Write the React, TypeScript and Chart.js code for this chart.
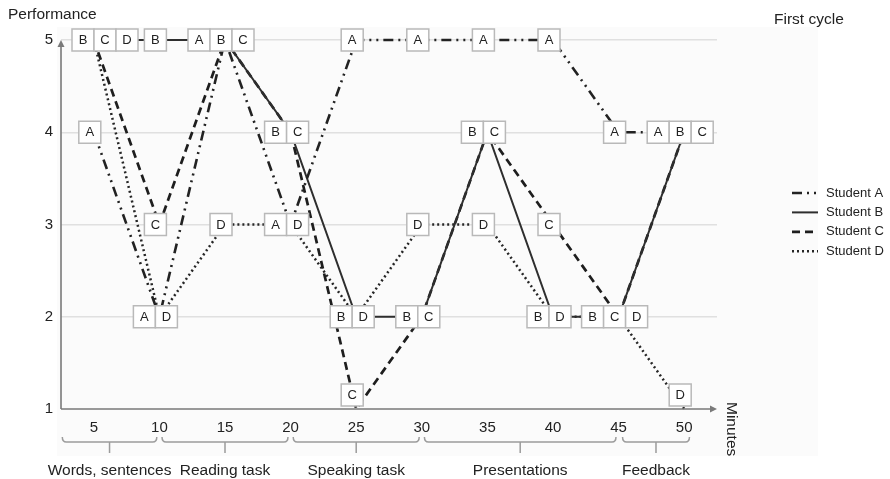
import React, { useEffect, useRef } from "react";
import { Chart, registerables } from "chart.js";

Chart.register(...registerables);

const minutes = [5, 10, 15, 20, 25, 30, 35, 40, 45, 50];
const studentA = [4, 2, 5, 3, 5, 5, 5, 5, 4, 4];
const studentB = [5, 5, 5, 4, 2, 2, 4, 2, 2, 4];
const studentC = [5, 3, 5, 4, 1, 2, 4, 3, 2, 4];
const studentD = [5, 2, 3, 3, 2, 3, 3, 2, 2, 1];
const studentNames = ["Student A", "Student B", "Student C", "Student D"];
const studentLetters = ["A", "B", "C", "D"];
const xTicks = [5, 10, 15, 20, 25, 30, 35, 40, 45, 50];
const yTicks = [1, 2, 3, 4, 5];
const phaseLabels = ["Words, sentences", "Reading task", "Speaking task", "Presentations", "Feedback"];
const phaseStarts = [2.6, 10.2, 20.2, 30.2, 45.3];
const phaseEnds = [9.8, 19.8, 29.8, 44.8, 50.4];
const yTitle = "Performance";
const xTitle = "Minutes";
const cornerTitle = "First cycle";

const FONT = '"Liberation Sans", Arial, Helvetica, sans-serif';
const TEXT = "#222222";

const decorPlugin = {
  id: "decor",
  beforeDraw(chart: any) {
    const { ctx, chartArea } = chart;
    ctx.save();
    ctx.fillStyle = "#fbfbfb";
    ctx.fillRect(chartArea.left - 4, chartArea.top - 13, chartArea.right - chartArea.left + 105, chartArea.bottom - chartArea.top + 60);
    ctx.restore();
  },
  afterDatasetsDraw(chart: any) {
    const { ctx, chartArea } = chart;
    const { left, right, top, bottom } = chartArea;
    const xs = chart.scales.x;
    const ys = chart.scales.y;
    ctx.save();

    // axes with arrows
    ctx.strokeStyle = "#7a7a7a";
    ctx.fillStyle = "#7a7a7a";
    ctx.lineWidth = 1.6;
    ctx.setLineDash([]);
    ctx.beginPath();
    ctx.moveTo(left, bottom);
    ctx.lineTo(left, top + 4);
    ctx.moveTo(left, bottom);
    ctx.lineTo(right - 4, bottom);
    ctx.stroke();
    ctx.beginPath();
    ctx.moveTo(left, top);
    ctx.lineTo(left - 3.5, top + 7);
    ctx.lineTo(left + 3.5, top + 7);
    ctx.closePath();
    ctx.fill();
    ctx.beginPath();
    ctx.moveTo(right, bottom);
    ctx.lineTo(right - 7, bottom - 3.5);
    ctx.lineTo(right - 7, bottom + 3.5);
    ctx.closePath();
    ctx.fill();

    // letter boxes
    const ds = chart.data.datasets;
    const bw = 22;
    minutes.forEach((m, i) => {
      const groups = new Map<number, number[]>();
      ds.forEach((d: any, s: number) => {
        const v = d.data[i].y;
        if (!groups.has(v)) groups.set(v, []);
        groups.get(v)!.push(s);
      });
      groups.forEach((members, v) => {
        const px = xs.getPixelForValue(m) - 4;
        let py = ys.getPixelForValue(v);
        py = Math.min(py, bottom - 3 - bw / 2);
        const n = members.length;
        let x0 = px - (n * bw) / 2;
        x0 = Math.max(x0, left + 11);
        members.forEach((s, k) => {
          const bx = x0 + k * bw;
          const by = py - bw / 2;
          ctx.fillStyle = "#ffffff";
          ctx.fillRect(bx, by, bw, bw);
          ctx.strokeStyle = "#b9b9b9";
          ctx.lineWidth = 1.5;
          ctx.strokeRect(bx, by, bw, bw);
          ctx.fillStyle = TEXT;
          ctx.font = `13px ${FONT}`;
          ctx.textAlign = "center";
          ctx.textBaseline = "middle";
          ctx.fillText(studentLetters[s], bx + bw / 2, py + 0.5);
        });
      });
    });

    // phase brackets
    const by = bottom + 33;
    ctx.strokeStyle = "#9c9c9c";
    ctx.lineWidth = 1.5;
    phaseLabels.forEach((label, i) => {
      const x1 = xs.getPixelForValue(phaseStarts[i]);
      const x2 = xs.getPixelForValue(phaseEnds[i]);
      const xm = (x1 + x2) / 2;
      ctx.beginPath();
      ctx.moveTo(x1, by - 5);
      ctx.quadraticCurveTo(x1, by, x1 + 4, by);
      ctx.lineTo(x2 - 4, by);
      ctx.quadraticCurveTo(x2, by, x2, by - 5);
      ctx.moveTo(xm, by);
      ctx.lineTo(xm, by + 11);
      ctx.stroke();
      ctx.fillStyle = TEXT;
      ctx.font = `15.5px ${FONT}`;
      ctx.textAlign = "center";
      ctx.textBaseline = "middle";
      ctx.fillText(label, xm, bottom + 62);
    });

    // titles
    ctx.fillStyle = TEXT;
    ctx.font = `15.5px ${FONT}`;
    ctx.textAlign = "left";
    ctx.textBaseline = "middle";
    ctx.fillText(yTitle, 8, 15);
    ctx.fillText(cornerTitle, 774, 20);
    ctx.save();
    ctx.translate(right + 14, bottom - 7);
    ctx.rotate(Math.PI / 2);
    ctx.textAlign = "left";
    ctx.textBaseline = "middle";
    ctx.fillText(xTitle, 0, 0);
    ctx.restore();

    // legend
    const lx1 = right + 75;
    const lx2 = right + 101;
    ds.forEach((d: any, s: number) => {
      const ly = 193 + s * 19.4;
      ctx.strokeStyle = d.borderColor;
      ctx.lineWidth = d.borderWidth;
      ctx.setLineDash(d.borderDash || []);
      ctx.beginPath();
      ctx.moveTo(lx1, ly);
      ctx.lineTo(lx2, ly);
      ctx.stroke();
      ctx.setLineDash([]);
      ctx.fillStyle = TEXT;
      ctx.font = `13px ${FONT}`;
      ctx.textAlign = "left";
      ctx.textBaseline = "middle";
      ctx.fillText(d.label, lx2 + 8, ly);
    });

    ctx.restore();
  },
};

export default function App() {
  const canvasRef = useRef<HTMLCanvasElement | null>(null);

  useEffect(() => {
    if (!canvasRef.current) return;
    const series = [studentA, studentB, studentC, studentD];
    const dashes = [[10, 5, 2, 5, 2, 5], [], [8, 5], [2, 3]];
    const widths = [2.6, 2, 2.7, 2.5];
    const colors = ["#222222", "#2e2e2e", "#1e1e1e", "#262626"];
    const chart = new Chart(canvasRef.current, {
      type: "line",
      data: {
        datasets: series.map((vals, s) => ({
          label: studentNames[s],
          data: minutes.map((m, i) => ({ x: m, y: vals[i] })),
          borderColor: colors[s],
          borderWidth: widths[s],
          borderDash: dashes[s],
          pointRadius: 0,
          fill: false,
          tension: 0,
          clip: false as any,
        })),
      },
      options: {
        animation: false,
        responsive: false,
        devicePixelRatio: 1,
        layout: { padding: { left: 0, right: 173, top: 40, bottom: 0 } },
        plugins: { legend: { display: false }, tooltip: { enabled: false } },
        scales: {
          x: {
            type: "linear",
            min: 2.5,
            max: 52.5,
            afterBuildTicks: (scale: any) => {
              scale.ticks = xTicks.map((v) => ({ value: v }));
            },
            afterFit: (scale: any) => {
              scale.height = 70;
            },
            grid: { display: false, drawTicks: false },
            border: { display: false },
            ticks: {
              font: { size: 15, family: FONT },
              color: TEXT,
              padding: 10,
              maxRotation: 0,
              autoSkip: false,
            },
          },
          y: {
            type: "linear",
            min: 1,
            max: 5,
            afterBuildTicks: (scale: any) => {
              scale.ticks = yTicks.map((v) => ({ value: v }));
            },
            afterFit: (scale: any) => {
              scale.width = 61;
            },
            grid: {
              drawTicks: false,
              lineWidth: 1.5,
              color: (c: any) => (c.tick && c.tick.value === 1 ? "rgba(0,0,0,0)" : "#e0e0e0"),
            },
            border: { display: false },
            ticks: {
              font: { size: 15, family: FONT },
              color: TEXT,
              padding: 8,
            },
          },
        },
      },
      plugins: [decorPlugin],
    });
    return () => chart.destroy();
  }, []);

  return (
    <div style={{ position: "fixed", left: 0, top: 0, width: 890, height: 479, background: "#ffffff" }}>
      <canvas ref={canvasRef} width={890} height={479} style={{ width: 890, height: 479, display: "block" }} />
    </div>
  );
}
